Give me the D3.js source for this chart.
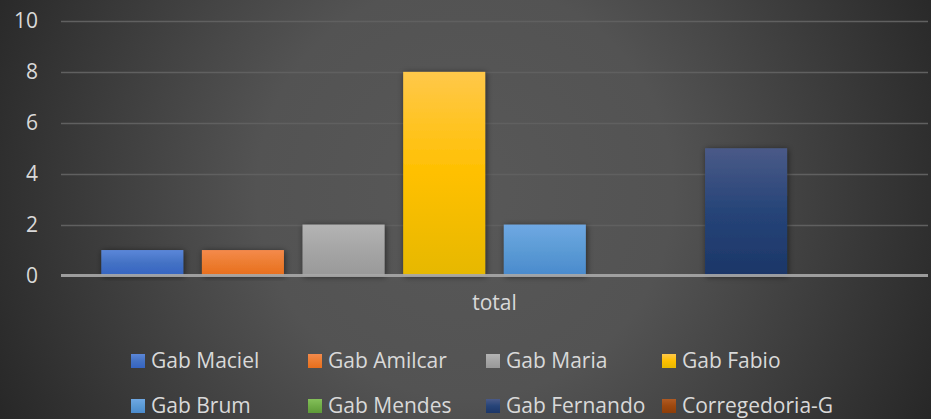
<!DOCTYPE html>
<html><head><meta charset="utf-8">
<script src="https://cdn.jsdelivr.net/npm/d3@7"></script>
<style>html,body{margin:0;padding:0;background:#2b2b2b;}svg{display:block;}</style>
</head><body><svg id="c" width="931" height="419"></svg>
<script>
const categories = ["total"];
const seriesNames = ["Gab Maciel","Gab Amilcar","Gab Maria","Gab Fabio","Gab Brum","Gab Mendes","Gab Fernando","Corregedoria-G"];
const seriesValues = [1,1,2,8,2,0,5,0];
const seriesColors = ["#4472c4","#ed7d31","#a5a5a5","#ffc000","#5b9bd5","#70ad47","#264478","#9e480e"];
const seriesTop = ["#5b87d9","#f48a4c","#b4b4b4","#ffc84a","#6fa8e3","#84c05a","#4a5a88","#b05a22"];
const seriesBottom = ["#3564c2","#e86e1c","#999999","#e6b800","#4a8acd","#5e9a38","#1c3668","#8c3e0a"];
const yTicks = [0,2,4,6,8,10];

const svg = d3.select("#c");
const W = 931, H = 419;
const defs = svg.append("defs");
const bg = defs.append("radialGradient").attr("id","bg").attr("gradientUnits","userSpaceOnUse")
  .attr("cx",465).attr("cy",190).attr("r",520);
bg.append("stop").attr("offset",0).attr("stop-color","#585858");
bg.append("stop").attr("offset",0.4).attr("stop-color","#535353");
bg.append("stop").attr("offset",1).attr("stop-color","#272727");
svg.append("rect").attr("width",W).attr("height",H).attr("fill","url(#bg)");

const sh = defs.append("filter").attr("id","sh").attr("x","-20%").attr("y","-20%").attr("width","140%").attr("height","140%");
sh.append("feDropShadow").attr("dx",1).attr("dy",1).attr("stdDeviation",3).attr("flood-color","#000").attr("flood-opacity",0.55);

seriesNames.forEach((n,i)=>{
  const g = defs.append("linearGradient").attr("id","g"+i).attr("x1",0).attr("y1",0).attr("x2",0).attr("y2",1);
  g.append("stop").attr("offset",0).attr("stop-color",seriesTop[i]);
  g.append("stop").attr("offset",0.5).attr("stop-color",seriesColors[i]);
  g.append("stop").attr("offset",1).attr("stop-color",seriesBottom[i]);
});

const plotL = 61, plotR = 928, y0 = 275.5, y10 = 21;
const y = d3.scaleLinear().domain([0,10]).range([y0,y10]);
const x0 = d3.scaleBand().domain(categories).range([plotL,plotR]).paddingOuter(0.0385).paddingInner(0);
const x1 = d3.scaleBand().domain(seriesNames).range([0,x0.bandwidth()]).paddingInner(0.185).paddingOuter(0.0925);

const font = "'Segoe UI','Open Sans',sans-serif";
const fs = "21px";
// gridlines
svg.append("g").selectAll("line").data(yTicks.filter(d=>d>0)).join("line")
  .attr("x1",plotL).attr("x2",plotR).attr("y1",d=>Math.round(y(d))+0.5).attr("y2",d=>Math.round(y(d))+0.5)
  .attr("stroke","#606060").attr("stroke-width",1.6);

// y axis labels
const ya = svg.append("g").attr("transform",`translate(38,0)`)
  .call(d3.axisLeft(y).tickValues(yTicks).tickSize(0).tickPadding(0));
ya.select(".domain").remove();
ya.selectAll("text").attr("fill","#d9d9d9").style("font-family",font).style("font-size",fs);

// bars
const bars = svg.append("g");
categories.forEach(c=>{
  bars.selectAll("rect").data(seriesNames.map((n,i)=>({n,i,v:seriesValues[i]})).filter(d=>d.v>0)).join("rect")
    .attr("x",d=>x0(c)+x1(d.n)).attr("width",x1.bandwidth())
    .attr("y",d=>y(d.v)).attr("height",d=>y0-y(d.v))
    .attr("fill",d=>`url(#g${d.i})`).attr("filter","url(#sh)");
});

// baseline
svg.append("line").attr("x1",plotL).attr("x2",plotR).attr("y1",y0).attr("y2",y0)
  .attr("stroke","#a8a8a8").attr("stroke-width",3).attr("stroke-opacity",0.9);

// category axis label
const xa = svg.append("g").attr("transform",`translate(0,${y0+20})`)
  .call(d3.axisBottom(x0).tickSize(0).tickPadding(0));
xa.select(".domain").remove();
xa.selectAll("text").attr("fill","#d9d9d9").style("font-family",font).style("font-size",fs);

// legend
const legX = [131,308,486,662];
const legY = [361,406];
const leg = svg.append("g");
seriesNames.forEach((n,i)=>{
  const col = i%4, row = Math.floor(i/4);
  const g = leg.append("g").attr("transform",`translate(${legX[col]},${legY[row]})`);
  g.append("rect").attr("x",0).attr("y",-7).attr("width",14).attr("height",14).attr("fill",`url(#g${i})`);
  g.append("text").attr("x",20).attr("y",0).attr("dy","0.35em").text(n)
    .attr("fill","#d9d9d9").style("font-family",font).style("font-size",fs);
});
</script></body></html>
